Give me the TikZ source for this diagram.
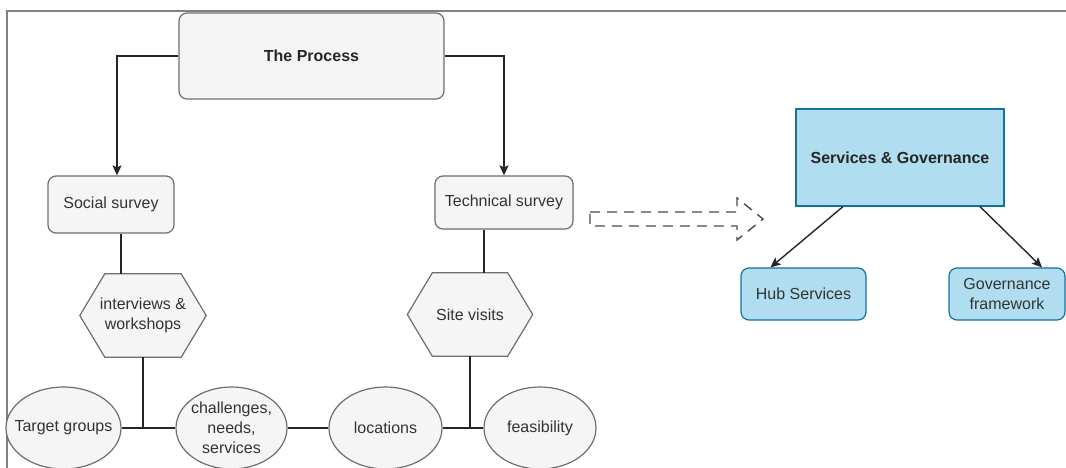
\documentclass[tikz,border=0pt]{standalone}
\usepackage{fontspec}
\setmainfont{Liberation Sans}
\usetikzlibrary{arrows.meta,shapes.geometric,backgrounds,calc}
\definecolor{gfill}{HTML}{F5F5F5}
\definecolor{gline}{HTML}{6E6E6E}
\definecolor{bfill}{HTML}{B1DDF0}
\definecolor{bline}{HTML}{10739E}
\definecolor{txt}{HTML}{333333}
\definecolor{frm}{HTML}{808080}
\definecolor{lnc}{HTML}{262626}
\begin{document}
\begin{tikzpicture}[x=1pt,y=-1pt,
  every node/.style={font=\fontsize{16}{20}\selectfont, text=txt, inner sep=2pt, align=center},
  boldtext/.style={font=\fontsize{16}{20}\selectfont\bfseries, text=black!85},
  graybox/.style={draw=gline, fill=gfill, line width=1.2pt, rounded corners=8pt},
  bluebox/.style={draw=bline, fill=bfill, line width=1.2pt},
  hexshape/.style={draw=gline, fill=gfill, line width=1.2pt},
  oval/.style={ellipse, draw=gline, fill=gfill, line width=1.2pt, inner sep=0pt, minimum height=82pt},
  conn/.style={draw=lnc, line width=1.4pt},
  arr/.style={conn, -{Stealth[length=10pt,width=9pt,inset=2pt]}},
  blockarrow/.style={draw=black!70, line width=1.4pt, dash pattern=on 10pt off 7pt},
  frameline/.style={draw=frm, line width=2pt}
]
\useasboundingbox (0,0) rectangle (1066,468);
\clip (0,0) rectangle (1066,468);

% frame
\draw[frameline] (7,468) -- (7,11) -- (1066,11);

% left part
\node[graybox, boldtext, minimum width=265pt, minimum height=86pt] (proc) at (311.5,56) {The Process};
\node[graybox, minimum width=126pt, minimum height=57pt] (soc) at (111,204.5) {Social survey};
\node[graybox, minimum width=138pt, minimum height=53pt] (tech) at (504,202.5) {Technical survey};
\node[minimum width=126pt, minimum height=83pt] (h1) at (143,315.5) {interviews \&\\workshops};
\node[minimum width=125pt, minimum height=83pt] (h2) at (470,314.5) {Site visits};
\begin{scope}[on background layer]
  \foreach \h in {h1,h2}
    \draw[hexshape] ([xshift=25pt]\h.north west) -- ([xshift=-25pt]\h.north east) -- (\h.east)
      -- ([xshift=-25pt]\h.south east) -- ([xshift=25pt]\h.south west) -- (\h.west) -- cycle;
\end{scope}

\node[oval, minimum width=115pt, label={center:Target groups}] (tg) at (63.5,428) {};
\node[oval, minimum width=111pt, label={[align=center]center:{challenges,\\needs,\\services}}] (cns) at (231.5,428) {};
\node[oval, minimum width=113pt, label={center:locations}] (loc) at (385.5,428) {};
\node[oval, minimum width=112pt, label={center:feasibility}] (fea) at (540,428) {};

\draw[arr] (proc.west) -| ([xshift=6pt]soc.north);
\draw[arr] (proc.east) -| (tech.north);
\draw[conn] ([xshift=10pt]soc.south) -- ([xshift=10pt]soc.south |- h1.north);
\draw[conn] ([xshift=-20pt]tech.south) -- ([xshift=-20pt]tech.south |- h2.north);
\coordinate (j1) at (h1.south |- tg.east);
\coordinate (j2) at (h2.south |- fea.west);
\draw[conn] (h1.south) -- (j1);
\draw[conn] (h2.south) -- (j2);
\draw[conn] (tg) -- (cns);
\draw[conn] (cns) -- (loc);
\draw[conn] (loc) -- (fea);

% dashed block arrow
\draw[blockarrow] (590,212) -- (737,212) -- (737,198) -- (763,219) -- (737,240) -- (737,226) -- (590,226) -- cycle;

% right part
\node[bluebox, boldtext, minimum width=208pt, minimum height=97pt] (sg) at (900,157.5) {Services \& Governance};
\node[bluebox, rounded corners=8pt, minimum width=125pt, minimum height=52pt] (hub) at (803.5,294) {Hub Services};
\node[bluebox, rounded corners=8pt, minimum width=116pt, minimum height=52pt] (gov) at (1007,294) {Governance\\framework};
\draw[arr] ([xshift=-57pt]sg.south) -- ([xshift=-33pt]hub.north);
\draw[arr] ([xshift=80pt]sg.south) -- ([xshift=35pt]gov.north);
\end{tikzpicture}
\end{document}
